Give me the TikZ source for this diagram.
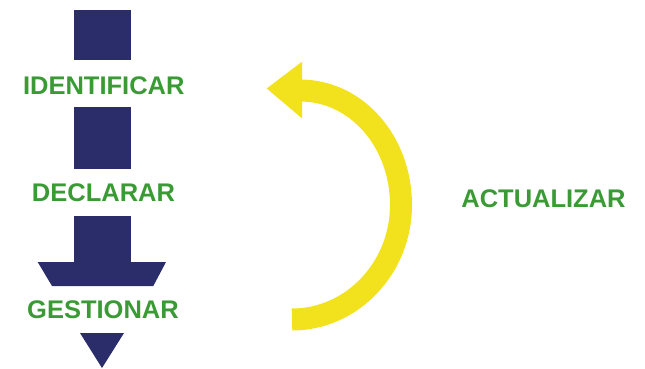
\documentclass[tikz,border=0pt]{standalone}
\usepackage{fontspec}
\setmainfont{Liberation Sans}
\definecolor{navy}{HTML}{2A2D69}
\definecolor{leaf}{HTML}{3A9B35}
\definecolor{sun}{HTML}{F2E21E}
\begin{document}
\begin{tikzpicture}[x=1pt,y=-1pt,
  block/.style={fill=navy,draw=none},
  lbl/.style={text=leaf,font=\fontsize{25.5}{30}\selectfont\bfseries,anchor=base,inner sep=0pt,outer sep=0pt}]
\useasboundingbox (0,0) rectangle (645,368);
% left column
\fill[block] (74,10) rectangle (131,60);
\node[lbl] (ident) at (103.8,94) {IDENTIFICAR};
\fill[block] (74,107) rectangle (131,169);
\node[lbl] (decl) at (103.5,201) {DECLARAR};
\fill[block] (74,216) rectangle (131,262.5) -- cycle;
\fill[block] (37.7,262) -- (166,262) -- (153.3,286) -- (52,286) -- cycle;
\node[lbl] (gest) at (103,318) {GESTIONAR};
\fill[block] (80,333) -- (124,333) -- (102,368) -- cycle;
% yellow curved arrow
\draw[sun,line width=22pt,line cap=butt]
  (292,319.5) .. controls (352,319.5) and (401,268) .. (401,205)
  .. controls (401,142) and (357,90.5) .. (300,90.5);
\fill[sun] (302,61.7) -- (266.7,88.5) -- (302,118.3) -- cycle;
\node[lbl] (act) at (543.5,207.7) {ACTUALIZAR};
\end{tikzpicture}
\end{document}
